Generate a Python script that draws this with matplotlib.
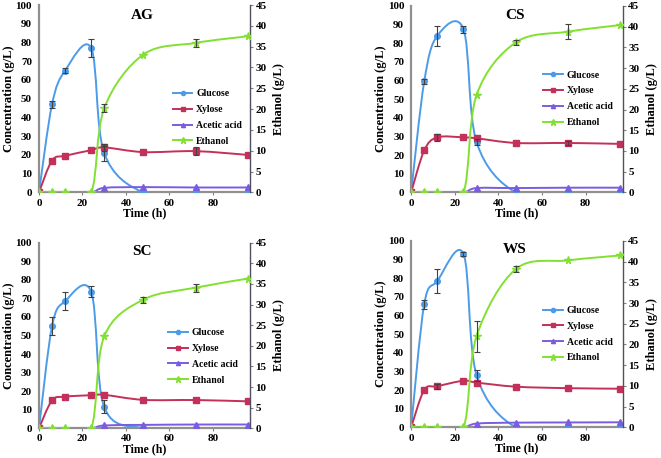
import matplotlib.pyplot as plt
import numpy as np
from matplotlib.path import Path
from matplotlib.patches import PathPatch
from matplotlib.lines import Line2D

plt.rcParams['font.family'] = ['Liberation Serif', 'DejaVu Serif']
plt.rcParams['font.weight'] = 'bold'

# sampling times (h)
TIME = [0, 6, 12, 24, 30, 48, 72, 96]

# AG
ag_glucose = [0, 47, 65, 77, 21, 0, 0, 0]
ag_glucose_err = [0, 2, 1.5, 5, 4, 0, 0, 0]
ag_xylose = [0, 17, 19.5, 22.5, 24, 21.5, 22, 20]
ag_xylose_err = [0, 0, 0, 0, 2, 0, 2, 0]
ag_acetic = [0, 0, 0, 0, 2.4, 2.8, 2.6, 2.6]
ag_ethanol = [0, 0, 0, 0, 20.2, 33.1, 35.9, 37.5]
ag_ethanol_err = [0, 0, 0, 0, 1, 0, 1, 0]

# CS
cs_glucose = [0, 59.5, 84, 87.5, 27, 0, 0, 0]
cs_glucose_err = [0, 1.5, 5.5, 2, 1.5, 0, 0, 0]
cs_xylose = [0, 22.5, 29.5, 29.5, 29, 26.5, 26.5, 26]
cs_xylose_err = [0, 0, 2, 0, 0, 0, 1, 0]
cs_acetic = [0, 0, 0, 0, 2.3, 2.3, 2.5, 2.5]
cs_ethanol = [0, 0, 0, 0, 23.5, 36.2, 38.8, 40.4]
cs_ethanol_err = [0, 0, 0, 0, 0, 0.7, 1.8, 0]

# SC
sc_glucose = [0, 55, 68.5, 73.5, 11.5, 0, 0, 0]
sc_glucose_err = [0, 5, 5, 3, 3.5, 0, 0, 0]
sc_xylose = [0, 15, 17, 17.8, 18, 15.3, 15.2, 14.5]
sc_xylose_err = [0, 0, 0, 0, 0, 0, 0, 0]
sc_acetic = [0, 0, 0, 0, 1.5, 1.8, 2, 2]
sc_ethanol = [0, 0, 0, 0, 22.3, 31.2, 34.1, 36.3]
sc_ethanol_err = [0, 0, 0, 0, 0, 0.7, 1, 0]

# WS
ws_glucose = [0, 66, 78.5, 93, 28, 0, 0, 0]
ws_glucose_err = [0, 2.5, 6.5, 1, 3, 0, 0, 0]
ws_xylose = [0, 20, 22, 25, 24, 21.8, 21, 20.7]
ws_xylose_err = [0, 0, 1.5, 0, 0, 0, 0, 0]
ws_acetic = [0, 0, 0, 0, 2, 2.5, 2.6, 2.7]
ws_ethanol = [0, 0, 0, 0, 22, 38.2, 40.3, 41.5]
ws_ethanol_err = [0, 0, 0, 0, 3.7, 0.8, 0, 0]

C_GLU = '#4C9BE8'
C_XYL = '#C3305A'
C_ACE = '#7B5CE0'
C_ETH = '#82E032'


def smooth_path(x, y):
    # excel-like smoothed line as cubic bezier through the data points
    pts = np.column_stack([x, y]).astype(float)
    n = len(pts)
    verts = [pts[0]]
    codes = [Path.MOVETO]
    for i in range(n - 1):
        p0 = pts[i - 1] if i > 0 else pts[i]
        p1 = pts[i]
        p2 = pts[i + 1]
        p3 = pts[i + 2] if i + 2 < n else pts[i + 1]
        verts += [p1 + (p2 - p0) / 6, p2 - (p3 - p1) / 6, p2]
        codes += [Path.CURVE4] * 3
    return Path(verts, codes)


def series(ax, y, err, color, marker, ms):
    ax.add_patch(PathPatch(smooth_path(TIME, y), fill=False, edgecolor=color, lw=1.4, zorder=2))
    ax.plot(TIME, y, linestyle='none', marker=marker, color=color, ms=ms, zorder=3)
    if err is not None:
        t = [TIME[i] for i in range(len(TIME)) if err[i] > 0]
        v = [y[i] for i in range(len(TIME)) if err[i] > 0]
        e = [err[i] for i in range(len(TIME)) if err[i] > 0]
        if t:
            ax.errorbar(t, v, yerr=e, fmt='none', ecolor='#404040', elinewidth=0.8,
                        capsize=2.5, capthick=0.8, zorder=4)


def panel(rect, name, glu, glu_e, xyl, xyl_e, ace, eth, eth_e, leg_xy, title_xy):
    ax = fig.add_axes(rect)
    ax2 = ax.twinx()
    series(ax, glu, glu_e, C_GLU, 'o', 4)
    series(ax, xyl, xyl_e, C_XYL, 's', 4)
    series(ax, ace, None, C_ACE, '^', 4)
    series(ax2, eth, eth_e, C_ETH, '*', 5.5)

    ax.set_xlim(0, 97)
    ax.set_ylim(0, 100)
    ax2.set_ylim(0, 45)
    ax.set_xticks([0, 20, 40, 60, 80])
    ax.set_yticks(range(0, 101, 10))
    ax2.set_yticks(range(0, 46, 5))

    for a in (ax, ax2):
        a.spines['top'].set_visible(False)
        a.tick_params(labelsize=8, length=2.5, width=0.8, color='#808080', pad=1.5)
    ax.spines['left'].set_color('#909090')
    ax.spines['left'].set_linewidth(1.6)
    ax.spines['bottom'].set_color('#909090')
    ax.spines['bottom'].set_linewidth(1.6)
    ax2.spines['left'].set_visible(False)
    ax2.spines['bottom'].set_visible(False)
    ax2.spines['right'].set_color('#505060')
    ax2.spines['right'].set_linewidth(0.9)
    ax.tick_params(axis='y', length=0, pad=5)
    ax.tick_params(axis='x', pad=2)

    ax.set_xlabel('Time (h)', fontsize=8.5, fontweight='bold', labelpad=0)
    ax.set_ylabel('Concentration (g/L)', fontsize=9, fontweight='bold', labelpad=0.5)
    ax2.set_ylabel('Ethanol (g/L)', fontsize=9, fontweight='bold', labelpad=5)

    ax.text(title_xy[0], title_xy[1], name, transform=ax.transAxes, ha='center', va='center',
            fontsize=11, fontweight='bold')

    handles = [
        Line2D([], [], color=C_GLU, marker='o', ms=3, lw=1.4),
        Line2D([], [], color=C_XYL, marker='s', ms=3, lw=1.4),
        Line2D([], [], color=C_ACE, marker='^', ms=3, lw=1.4),
        Line2D([], [], color=C_ETH, marker='*', ms=4.5, lw=1.4),
    ]
    labels = ['Glucose', 'Xylose', 'Acetic acid', 'Ethanol']
    ax2.legend(handles, labels, loc='upper left', bbox_to_anchor=leg_xy, frameon=False,
               borderpad=0, borderaxespad=0, handlelength=2.0,
               handletextpad=0.4, labelspacing=0.7, prop={'weight': 'bold', 'size': 7})


fig = plt.figure(figsize=(6.61, 4.58), dpi=100)

panel([0.059, 0.580, 0.319, 0.409], 'AG', ag_glucose, ag_glucose_err, ag_xylose, ag_xylose_err,
      ag_acetic, ag_ethanol, ag_ethanol_err, (0.635, 0.55), (0.49, 0.946))
panel([0.622, 0.580, 0.320, 0.407], 'CS', cs_glucose, cs_glucose_err, cs_xylose, cs_xylose_err,
      cs_acetic, cs_ethanol, cs_ethanol_err, (0.625, 0.653), (0.49, 0.95))
panel([0.059, 0.065, 0.319, 0.405], 'SC', sc_glucose, sc_glucose_err, sc_xylose, sc_xylose_err,
      sc_acetic, sc_ethanol, sc_ethanol_err, (0.613, 0.539), (0.487, 0.951))
panel([0.622, 0.067, 0.320, 0.407], 'WS', ws_glucose, ws_glucose_err, ws_xylose, ws_xylose_err,
      ws_acetic, ws_ethanol, ws_ethanol_err, (0.625, 0.651), (0.49, 0.952))

fig.savefig('out.png', dpi=100)
